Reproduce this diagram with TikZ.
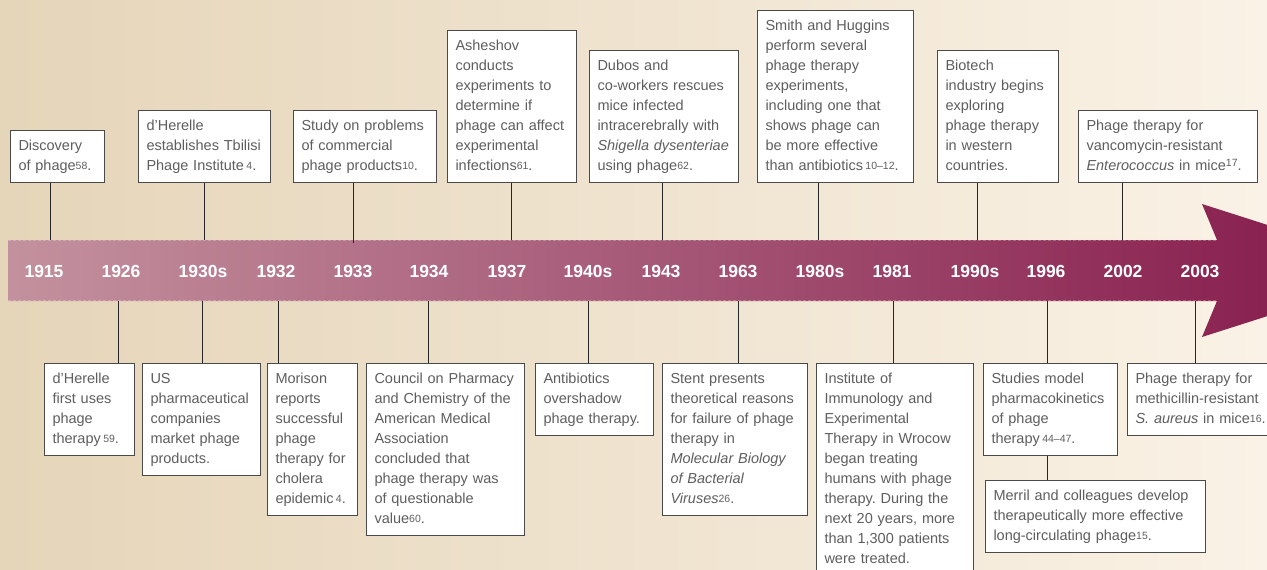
\documentclass[tikz,border=0pt]{standalone}
\usepackage{fontspec}
\setmainfont{Liberation Sans}
\definecolor{bgL}{HTML}{E5D5B9}
\definecolor{bgR}{HTML}{FAF2E6}
\definecolor{bandL}{HTML}{C3919E}
\definecolor{bandR}{HTML}{831548}
\definecolor{txt}{HTML}{5E5E5E}
\definecolor{boxline}{HTML}{4A4A4A}
\newcommand\rf[1]{\raisebox{0.8pt}{\fontsize{10.5}{10}\selectfont #1}}
\newcommand\rfs[1]{\raisebox{4.5pt}{\fontsize{10.5}{10}\selectfont #1}}
\hyphenpenalty=10000
\exhyphenpenalty=10000
\frenchspacing
\begin{document}
\begin{tikzpicture}[x=1pt,y=-1pt,
  ev/.style={draw=boxline, fill=white, line width=1pt, inner xsep=8pt, inner ysep=6pt,
    align=left, text=txt, font=\fontsize{14.5}{20}\selectfont\frenchspacing},
  topbox/.style={ev, anchor=south west},
  botbox/.style={ev, anchor=north west},
  conn/.style={draw=black!85, line width=0.9pt},
  year/.style={text=white, font=\fontsize{17.5}{20}\selectfont\bfseries, inner sep=0pt},
  bandedge/.style={draw=white, opacity=0.25, line width=0.8pt, dash pattern=on 3pt off 2pt}
]
\shade[left color=bgL, right color=bgR] (0,0) rectangle (1267,570);
\useasboundingbox (0,0) rectangle (1267,570);

% band and arrow head
\shade[left color=bandL, right color=bandR]
  (8,240) -- (1217,240) -- (1202,204) -- (1410,270.5) -- (1202,337) -- (1217,301) -- (8,301) -- cycle;
\draw[bandedge] (8,240.5) -- (1217,240.5);
\draw[bandedge] (8,300.5) -- (1217,300.5);

% year labels
\node[year] (y1915) at (44,271) {1915};
\node[year] (y1926) at (121,271) {1926};
\node[year] (y1930s) at (203,271) {1930s};
\node[year] (y1932) at (276,271) {1932};
\node[year] (y1933) at (353,271) {1933};
\node[year] (y1934) at (429,271) {1934};
\node[year] (y1937) at (507,271) {1937};
\node[year] (y1940s) at (588,271) {1940s};
\node[year] (y1943) at (661,271) {1943};
\node[year] (y1963) at (738,271) {1963};
\node[year] (y1980s) at (820,271) {1980s};
\node[year] (y1981) at (892,271) {1981};
\node[year] (y1990s) at (975,271) {1990s};
\node[year] (y1996) at (1046,271) {1996};
\node[year] (y2002) at (1123,271) {2002};
\node[year] (y2003) at (1200,271) {2003};

% connector anchor points on the band
\coordinate (a1) at (50,240);
\coordinate (a2) at (204,240);
\coordinate (a3) at (353,243);
\coordinate (a4) at (511,240);
\coordinate (a5) at (662,240);
\coordinate (a6) at (818,240);
\coordinate (a7) at (977,240);
\coordinate (a8) at (1122,240);
\coordinate (b1) at (118,301);
\coordinate (b2) at (202,301);
\coordinate (b3) at (278,301);
\coordinate (b4) at (428,301);
\coordinate (b5) at (588,301);
\coordinate (b6) at (738,301);
\coordinate (b7) at (893,301);
\coordinate (b8) at (1047,301);
\coordinate (b10) at (1195,301);

% top boxes
\node[topbox, text width=78pt] (T1) at (10,183) {\strut Discovery\\of phage\rf{58}.\strut};
\node[topbox, text width=116pt] (T2) at (138,183) {\strut d’Herelle\\establishes Tbilisi\\Phage Institute\,\rf{4}.\strut};
\node[topbox, text width=127pt] (T3) at (293,183) {\strut Study on problems\\of commercial\\phage products\rf{10}.\strut};
\node[topbox, text width=113pt] (T4) at (447,183) {\strut Asheshov\\conducts\\experiments to\\determine if\\phage can affect\\experimental\\infections\rf{61}.\strut};
\node[topbox, text width=133pt] (T5) at (589,183) {\strut Dubos and\\co-workers rescues\\mice infected\\intracerebrally with\\\mbox{\textit{Shigella dysenteriae}}\\using phage\rf{62}.\strut};
\node[topbox, text width=140pt] (T6) at (757,183) {\strut Smith and Huggins\\perform several\\phage therapy\\experiments,\\including one that\\shows phage can\\be more effective\\\mbox{than antibiotics\,\rf{10--12}.}\strut};
\node[topbox, text width=105pt] (T7) at (937,183) {\strut Biotech\\industry begins\\exploring\\phage therapy\\in western\\countries.\strut};
\node[topbox, text width=163pt] (T8) at (1078,183) {\strut Phage therapy for\\vancomycin-resistant\\\textit{Enterococcus} in mice\rfs{17}.\strut};

% bottom boxes
\node[botbox, text width=74pt] (B1) at (44,363) {\strut d’Herelle\\first uses\\phage\\therapy\,\rf{59}.\strut};
\node[botbox, text width=102pt] (B2) at (142,363) {\strut US\\pharmaceutical\\companies\\market phage\\products.\strut};
\node[botbox, text width=74pt] (B3) at (267,363) {\strut Morison\\reports\\successful\\phage\\therapy for\\cholera\\epidemic\,\rf{4}.\strut};
\node[botbox, text width=142pt] (B4) at (366,363) {\strut Council on Pharmacy\\and Chemistry of the\\American Medical\\Association\\concluded that\\phage therapy was\\of questionable\\value\rf{60}.\strut};
\node[botbox, text width=102pt] (B5) at (535,363) {\strut Antibiotics\\overshadow\\phage therapy.\strut};
\node[botbox, text width=129pt] (B6) at (662,363) {\strut Stent presents\\theoretical reasons\\for failure of phage\\therapy in\\\textit{Molecular Biology}\\\textit{of Bacterial}\\\textit{Viruses}\rf{26}.\strut};
\node[botbox, text width=141pt] (B7) at (816,363) {\strut Institute of\\Immunology and\\Experimental\\Therapy in Wrocow\\began treating\\humans with phage\\therapy. During the\\next 20 years, more\\than 1,300 patients\\were treated.\strut};
\node[botbox, text width=118pt] (B8) at (983,363) {\strut Studies model\\pharmacokinetics\\of phage\\therapy\,\rf{44--47}.\strut};
\node[botbox, text width=204pt] (B9) at (985,480) {\strut Merril and colleagues develop\\therapeutically more effective\\long-circulating phage\rf{15}.\strut};
\node[botbox, text width=124pt] (B10) at (1127,363) {\strut Phage therapy for\\\mbox{methicillin-resistant}\\\mbox{\textit{S. aureus} in mice\rf{16}.}\strut};

% connectors
\draw[conn] (T1.south -| a1) -- (a1);
\draw[conn] (T2.south -| a2) -- (a2);
\draw[conn] (T3.south -| a3) -- (a3);
\draw[conn] (T4.south -| a4) -- (a4);
\draw[conn] (T5.south -| a5) -- (a5);
\draw[conn] (T6.south -| a6) -- (a6);
\draw[conn] (T7.south -| a7) -- (a7);
\draw[conn] (T8.south -| a8) -- (a8);
\draw[conn] (b1) -- (B1.north -| b1);
\draw[conn] (b2) -- (B2.north -| b2);
\draw[conn] (b3) -- (B3.north -| b3);
\draw[conn] (b4) -- (B4.north -| b4);
\draw[conn] (b5) -- (B5.north -| b5);
\draw[conn] (b6) -- (B6.north -| b6);
\draw[conn] (b7) -- (B7.north -| b7);
\draw[conn] (b8) -- (B8.north -| b8);
\draw[conn] (B8.south -| b8) -- (B9.north -| b8);
\draw[conn] (b10) -- (B10.north -| b10);
\end{tikzpicture}
\end{document}
